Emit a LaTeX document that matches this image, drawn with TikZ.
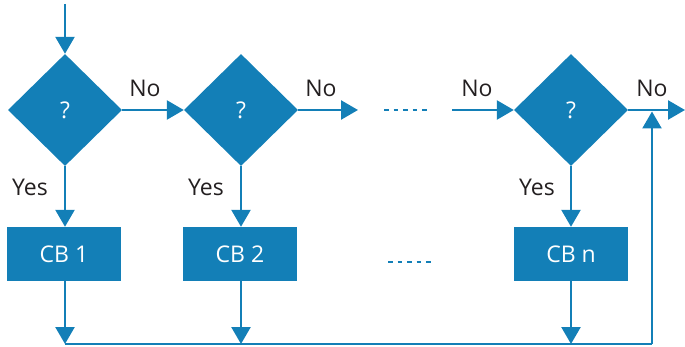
\documentclass[tikz,border=0pt]{standalone}
\usepackage{fontspec}
\setmainfont{Open Sans}
\usetikzlibrary{shapes.geometric,arrows.meta}
\definecolor{flowblue}{HTML}{137FB7}
\definecolor{labelgray}{HTML}{231F20}
\tikzset{
  decision/.style={diamond,fill=flowblue,text=white,inner sep=0pt,
    minimum width=114pt,minimum height=112pt,font=\fontsize{23}{27}\selectfont},
  block/.style={rectangle,fill=flowblue,text=white,inner sep=0pt,
    minimum width=114pt,minimum height=54pt,font=\fontsize{23}{27}\selectfont},
  flow/.style={draw=flowblue,line width=2.5pt},
  arr/.style={flow,-{Triangle[length=17pt,width=19pt]}},
  etc/.style={draw=flowblue,line width=2.5pt,dash pattern=on 4.5pt off 5pt},
  lbl/.style={text=labelgray,font=\fontsize{23}{27}\selectfont,inner sep=0pt}
}
\begin{document}
\begin{tikzpicture}[x=1pt,y=-1pt]
  \useasboundingbox (0,0) rectangle (685,347);

  % decisions
  \node[decision] (d1) at (65,110) {?};
  \node[decision] (d2) at (241,110) {?};
  \node[decision] (dn) at (571,110) {?};

  % actions
  \node[block] (b1) at (64,254) {CB 1};
  \node[block] (b2) at (240,254) {CB 2};
  \node[block] (bn) at (571,254) {CB n};

  % helper points
  \coordinate (start) at (65,4);
  \coordinate (gapin) at (358,110);
  \coordinate (gapout) at (452,110);
  \coordinate (exit) at (685,110);
  \coordinate (bot) at (65,344);
  \coordinate (corner) at (652,344);
  \coordinate (ret) at (652,111.5);
  \coordinate (dotsA1) at (384,110);
  \coordinate (dotsA2) at (428,110);
  \coordinate (dotsB1) at (388,262);
  \coordinate (dotsB2) at (433,262);

  % entry
  \draw[arr] (start) -- (d1.north);

  % "No" chain
  \draw[arr] (d1.east) -- (d2.west);
  \draw[arr] (d2.east) -- (gapin);
  \draw[etc] (dotsA1) -- (dotsA2);
  \draw[arr] (gapout) -- (dn.west);
  \draw[arr] (dn.east) -- (exit);

  % "Yes" branches
  \draw[arr] (d1.south) -- (b1.north -| d1.south);
  \draw[arr] (d2.south) -- (b2.north -| d2.south);
  \draw[arr] (dn.south) -- (bn.north -| dn.south);
  \draw[etc] (dotsB1) -- (dotsB2);

  % collecting line and return
  \draw[arr] (b1.south -| d1.south) -- (d1.south |- bot);
  \draw[arr] (b2.south -| d2.south) -- (d2.south |- bot);
  \draw[arr] (bn.south -| dn.south) -- (dn.south |- bot);
  \draw[flow] (bot) -- (corner);
  \draw[arr] (corner) -- (ret);

  % labels
  \node[lbl] (no1) at (145,88) {No};
  \node[lbl] (no2) at (321,88) {No};
  \node[lbl] (no3) at (477,88) {No};
  \node[lbl] (no4) at (652,88) {No};
  \node[lbl] (yes1) at (30,187) {Yes};
  \node[lbl] (yes2) at (206,187) {Yes};
  \node[lbl] (yes3) at (537,187) {Yes};
\end{tikzpicture}
\end{document}
